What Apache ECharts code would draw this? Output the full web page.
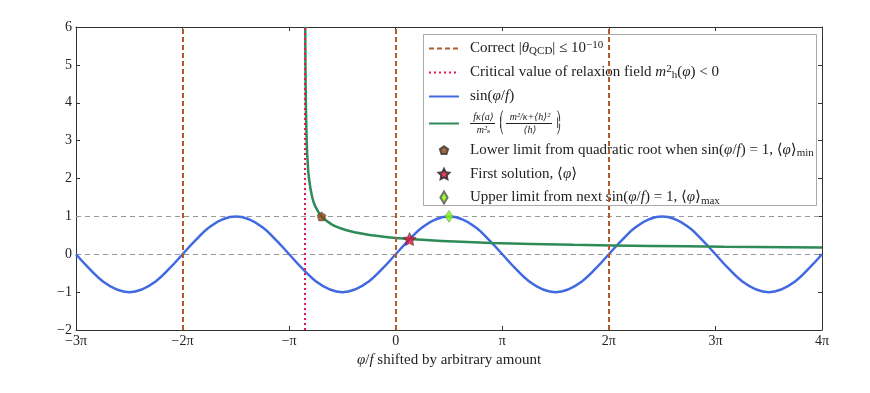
<!DOCTYPE html>
<html>
<head>
<meta charset="utf-8">
<script src="https://cdn.jsdelivr.net/npm/echarts@6/dist/echarts.min.js"></script>
<style>html,body{margin:0;padding:0;background:#fff}#c{width:870px;height:393px}</style>
</head>
<body>
<div id="c"></div>
<script>
// ---- data (x values in units of pi) ----
const xTickLabels = ['\u22123\u03c0','\u22122\u03c0','\u2212\u03c0','0','\u03c0','2\u03c0','3\u03c0','4\u03c0'];
const sinX = [-3,-2.875,-2.75,-2.625,-2.5,-2.375,-2.25,-2.125,
  -2,-1.875,-1.75,-1.625,-1.5,-1.375,-1.25,-1.125,
  -1,-0.875,-0.75,-0.625,-0.5,-0.375,-0.25,-0.125,
  0,0.125,0.25,0.375,0.5,0.625,0.75,0.875,
  1,1.125,1.25,1.375,1.5,1.625,1.75,1.875,
  2,2.125,2.25,2.375,2.5,2.625,2.75,2.875,
  3,3.125,3.25,3.375,3.5,3.625,3.75,3.875,4];
const sinY = [0,-0.38,-0.71,-0.92,-1,-0.92,-0.71,-0.38,
  0,0.38,0.71,0.92,1,0.92,0.71,0.38,
  0,-0.38,-0.71,-0.92,-1,-0.92,-0.71,-0.38,
  0,0.38,0.71,0.92,1,0.92,0.71,0.38,
  0,-0.38,-0.71,-0.92,-1,-0.92,-0.71,-0.38,
  0,0.38,0.71,0.92,1,0.92,0.71,0.38,
  0,-0.38,-0.71,-0.92,-1,-0.92,-0.71,-0.38,0];
const curveX = [-0.8486,-0.8467,-0.8432,-0.8355,-0.8278,-0.8137,-0.7831,-0.7523,-0.6957,-0.6072,-0.532,-0.416,-0.224,-0.076,0.13,0.431,0.895,1.664,2.397,3.08,4];
const curveY = [6,5,4,3,2.5,2,1.5,1.25,1,0.8,0.7,0.6,0.5,0.45,0.4,0.35,0.3,0.25,0.22,0.2,0.18];
const correctX = [-2, 0, 2];
const criticalX = [-0.853];
const hLinesY = [0, 1];
const lowerPt = [-0.696, 1];
const firstPt = [0.13, 0.4];
const upperPt = [0.5, 1];

const zip = (a, b) => a.map((v, i) => [v, b[i]]);
const SERIF = "'Liberation Serif', 'DejaVu Serif', serif";
const starPath = 'path://M0,-10 L2.94,-4.05 L9.51,-3.09 L4.76,1.55 L5.88,8.09 L0,5 L-5.88,8.09 L-4.76,1.55 L-9.51,-3.09 L-2.94,-4.05 Z';
const pentPath = 'path://M0,-10 L9.51,-3.09 L5.88,8.09 L-5.88,8.09 L-9.51,-3.09 Z';
// legend icons padded to a 30x12 box so the marker keeps its own size
const pentIcon = 'path://M-15,-6 M15,6 M0,-4.3 L4.1,-1.3 L2.5,3.5 L-2.5,3.5 L-4.1,-1.3 Z';
const starIcon = 'path://M-15,-6 M15,6 M0,-5.8 L1.7,-2.35 L5.5,-1.8 L2.76,0.9 L3.4,4.7 L0,2.9 L-3.4,4.7 L-2.76,0.9 L-5.5,-1.8 L-1.7,-2.35 Z';
const diamIcon = 'path://M-15,-6 M15,6 M0,-6 L3.6,0 L0,6 L-3.6,0 Z';

const legendText = {
  correct: 'Correct |{i|\u03b8}{sub|QCD}| \u2264 10{sup|\u221210}',
  critical: 'Critical value of relaxion field {i|m}{sup|2}{sub|h}({i|\u03c6}) < 0',
  sin: 'sin({i|\u03c6}/{i|f})',
  curve: '{n1|f\u03ba\u27e8a\u27e9}{pl|\u239b}{n2|m\u00b2/\u03ba+\u27e8h\u27e9\u00b2}{pr|\u239e}\n' +
         '{b1| }{plm|\u239c}{b2| }{prm|\u239f}\n' +
         '{n1|m\u00b2\u209b}{pl|\u239d}{n2|\u27e8h\u27e9}{pr|\u23a0}',
  lower: 'Lower limit from quadratic root when sin({i|\u03c6}/{i|f}) = 1, \u27e8{i|\u03c6}\u27e9{sub|min}',
  first: 'First solution, \u27e8{i|\u03c6}\u27e9',
  upper: 'Upper limit from next sin({i|\u03c6}/{i|f}) = 1, \u27e8{i|\u03c6}\u27e9{sub2|max}'
};
const hide = {opacity: 0};

const chart = echarts.init(document.getElementById('c'));
const axisCommon = {
  type: 'value', splitLine: {show: false},
  axisLine: {show: true, onZero: false, lineStyle: {color: '#333', width: 1}},
  axisTick: {show: true, inside: true, length: 4, lineStyle: {color: '#333'}}
};
const PAR = "'DejaVu Sans', sans-serif";
chart.setOption({
  animation: false,
  backgroundColor: '#fff',
  grid: {left: 76, right: 48, top: 27, bottom: 63},
  xAxis: [
    Object.assign({}, axisCommon, {
      min: -3, max: 4, interval: 1, position: 'bottom',
      name: '{i|\u03c6}/{i|f} shifted by arbitrary amount', nameLocation: 'middle', nameGap: 22,
      nameTextStyle: {fontFamily: SERIF, fontSize: 15, color: '#222',
        rich: {i: {fontStyle: 'italic', fontFamily: SERIF, fontSize: 15, color: '#222'}}},
      axisLabel: {fontFamily: SERIF, fontSize: 14, color: '#222', margin: 4,
        formatter: v => xTickLabels[Math.round(v) + 3]}
    }),
    Object.assign({}, axisCommon, {min: -3, max: 4, interval: 1, position: 'top', axisLabel: {show: false}})
  ],
  yAxis: [
    Object.assign({}, axisCommon, {
      min: -2, max: 6, interval: 1, position: 'left',
      axisLabel: {fontFamily: SERIF, fontSize: 14, color: '#222', margin: 4,
        formatter: v => (v < 0 ? '\u2212' + (-v) : '' + v)}
    }),
    Object.assign({}, axisCommon, {min: -2, max: 6, interval: 1, position: 'right', axisLabel: {show: false}})
  ],
  legend: {
    orient: 'vertical', left: 428, top: 40, padding: 0, itemGap: 7,
    itemWidth: 30, itemHeight: 12,
    data: [
      {name: 'correct', itemStyle: hide},
      {name: 'critical', itemStyle: hide},
      {name: 'sin', itemStyle: hide},
      {name: 'curve', itemStyle: hide},
      {name: 'lower', icon: pentIcon},
      {name: 'first', icon: starIcon},
      {name: 'upper', icon: diamIcon, textStyle: {lineHeight: 13}}
    ],
    formatter: n => legendText[n],
    textStyle: {fontFamily: SERIF, fontSize: 15, color: '#222', lineHeight: 17, padding: [0,0,0,6],
      rich: {
        i: {fontStyle: 'italic', fontFamily: SERIF, fontSize: 15, color: '#222'},
        sub: {fontFamily: SERIF, fontSize: 11, color: '#222', verticalAlign: 'bottom', lineHeight: 17},
        sub2: {fontFamily: SERIF, fontSize: 11, color: '#222', verticalAlign: 'bottom', lineHeight: 13, padding: [0,0,-3,0]},
        sup: {fontFamily: SERIF, fontSize: 11, color: '#222', verticalAlign: 'top', lineHeight: 17},
        n1: {fontFamily: SERIF, fontStyle: 'italic', fontSize: 10, color: '#222', lineHeight: 10, width: 27, align: 'center'},
        n2: {fontFamily: SERIF, fontStyle: 'italic', fontSize: 10, color: '#222', lineHeight: 10, width: 48, align: 'center'},
        pl: {fontFamily: PAR, fontSize: 9, color: '#222', lineHeight: 10, width: 9, align: 'right'},
        pr: {fontFamily: PAR, fontSize: 9, color: '#222', lineHeight: 10, width: 9, align: 'left'},
        plm: {fontFamily: PAR, fontSize: 9, color: '#222', lineHeight: 3, width: 9, align: 'right'},
        prm: {fontFamily: PAR, fontSize: 9, color: '#222', lineHeight: 3, width: 9, align: 'left'},
        b1: {fontSize: 1, lineHeight: 3, height: 1, width: 25, backgroundColor: '#222'},
        b2: {fontSize: 1, lineHeight: 3, height: 1, width: 46, backgroundColor: '#222'}
      }
    }
  },
  graphic: [{type: 'rect', shape: {x: 423.5, y: 34.5, width: 393, height: 171},
    style: {fill: 'none', stroke: '#aaa', lineWidth: 1}, z: 100, silent: true}],
  series: [
    {name: 'correct', type: 'line', data: [], symbol: 'none', color: '#b35a30',
      lineStyle: {color: '#b35a30', width: 2, type: [5, 3]},
      markLine: {silent: true, symbol: ['none','none'], label: {show: false},
        lineStyle: {color: '#b35a30', width: 2, type: [5, 3]},
        data: correctX.map(v => ({xAxis: v}))}},
    {name: 'critical', type: 'line', data: [], symbol: 'none', color: '#e8174a',
      lineStyle: {color: '#e8174a', width: 2, type: [2, 3]},
      markLine: {silent: true, symbol: ['none','none'], label: {show: false},
        lineStyle: {color: '#e8174a', width: 2, type: [2, 3]},
        data: criticalX.map(v => ({xAxis: v}))}},
    {name: 'sin', type: 'line', data: zip(sinX, sinY), smooth: 0.5, symbol: 'none', color: '#4169e1',
      lineStyle: {color: '#4169e1', width: 2.5}, z: 3,
      markLine: {silent: true, symbol: ['none','none'], label: {show: false}, z: 1,
        lineStyle: {color: '#999', width: 1, type: [5, 4]},
        data: hLinesY.map(v => ({yAxis: v}))}},
    {name: 'curve', type: 'line', data: zip(curveX, curveY), smooth: 0.4, symbol: 'none', color: '#2e8b57',
      lineStyle: {color: '#2e8b57', width: 2.5}, z: 4},
    {name: 'lower', type: 'scatter', data: [lowerPt], symbol: pentPath, symbolSize: 9, z: 6,
      itemStyle: {color: '#8b4513', borderColor: '#333', borderWidth: 0.5}},
    {name: 'first', type: 'scatter', data: [firstPt], symbol: starPath, symbolSize: 13, z: 6,
      itemStyle: {color: '#dc143c', borderColor: '#222', borderWidth: 0.6}},
    {name: 'upper', type: 'scatter', data: [upperPt], symbol: 'diamond', symbolSize: [8, 12], z: 6,
      itemStyle: {color: '#7cfc00', borderColor: '#555', borderWidth: 0.5}}
  ]
});
</script>
</body>
</html>
